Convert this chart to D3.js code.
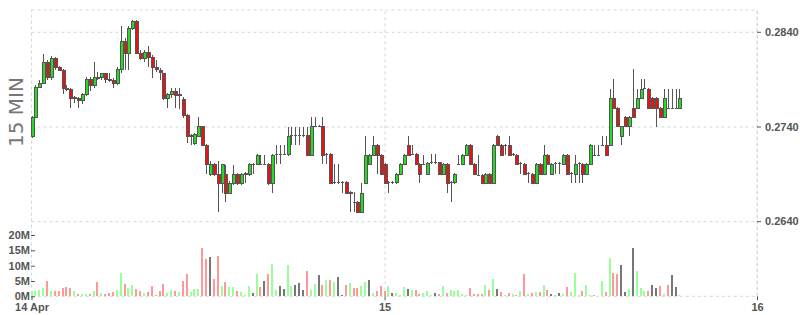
<!DOCTYPE html>
<html><head><meta charset="utf-8">
<script src="https://cdn.jsdelivr.net/npm/d3@7"></script>
<style>
body{margin:0;background:#fff;}
svg{display:block;font-family:"DejaVu Sans",Verdana,sans-serif;}
</style></head><body>
<svg id="c" width="800" height="315"></svg>
<script>
// ---- data (15-minute candles, 14 Apr 01:15 onward) ----
const open = [
.2730,.2750,.2782,.2786,.2808,.2792,.2812,.2803,.2800,.2781,
.2780,.2770,.2770,.2768,.2774,.2790,.2784,.2792,.2792,.2796,
.2790,.2789,.2786,.2801,.2830,.2818,.2844,.2851,.2818,.2812,
.2819,.2813,.2803,.2800,.2797,.2770,.2774,.2777,.2773,.2769,
.2752,.2730,.2723,.2730,.2740,.2720,.2690,.2700,.2690,.2680,
.2690,.2670,.2680,.2690,.2680,.2690,.2690,.2700,.2700,.2700,
.2700,.2700,.2680,.2711,.2711,.2711,.2711,.2731,.2731,.2731,
.2731,.2731,.2710,.2741,.2741,.2741,.2711,.2711,.2681,.2681,
.2681,.2681,.2670,.2660,.2660,.2650,.2680,.2700,.2710,.2720,
.2710,.2700,.2681,.2681,.2681,.2690,.2700,.2720,.2711,.2711,
.2700,.2700,.2690,.2702,.2702,.2702,.2690,.2700,.2681,.2681,
.2700,.2700,.2710,.2720,.2700,.2689,.2689,.2680,.2690,.2680,
.2730,.2720,.2720,.2720,.2711,.2710,.2701,.2700,.2691,.2690,
.2680,.2700,.2690,.2710,.2690,.2701,.2701,.2700,.2710,.2691,
.2690,.2701,.2700,.2690,.2700,.2710,.2710,.2720,.2720,.2720,
.2770,.2760,.2730,.2750,.2740,.2760,.2760,.2770,.2781,.2780,
.2770,.2770,.2760,.2750,.2760,.2760,.2760,.2760];
const high = [
.2751,.2784,.2789,.2817,.2810,.2814,.2813,.2804,.2801,.2784,
.2781,.2772,.2771,.2775,.2792,.2792,.2808,.2798,.2797,.2797,
.2797,.2791,.2803,.2846,.2833,.2846,.2852,.2852,.2821,.2821,
.2825,.2816,.2810,.2802,.2797,.2775,.2781,.2781,.2781,.2771,
.2753,.2732,.2733,.2750,.2741,.2721,.2704,.2701,.2704,.2700,
.2699,.2682,.2699,.2691,.2691,.2692,.2701,.2701,.2711,.2710,
.2710,.2701,.2711,.2720,.2720,.2720,.2740,.2740,.2740,.2740,
.2740,.2740,.2750,.2750,.2742,.2750,.2712,.2712,.2700,.2700,
.2682,.2682,.2672,.2671,.2661,.2680,.2730,.2711,.2730,.2721,
.2711,.2701,.2682,.2682,.2691,.2701,.2711,.2730,.2720,.2712,
.2701,.2710,.2702,.2711,.2711,.2703,.2701,.2701,.2682,.2691,
.2710,.2711,.2721,.2721,.2701,.2710,.2690,.2691,.2691,.2721,
.2731,.2721,.2721,.2730,.2712,.2711,.2702,.2701,.2692,.2691,
.2701,.2701,.2720,.2711,.2701,.2702,.2702,.2711,.2711,.2692,
.2710,.2702,.2701,.2701,.2721,.2720,.2720,.2730,.2730,.2780,
.2790,.2761,.2741,.2751,.2751,.2801,.2780,.2790,.2790,.2781,
.2771,.2771,.2761,.2780,.2780,.2780,.2780,.2780];
const low = [
.2728,.2749,.2781,.2785,.2789,.2789,.2800,.2799,.2774,.2777,
.2760,.2765,.2760,.2764,.2772,.2777,.2781,.2789,.2789,.2786,
.2787,.2781,.2784,.2797,.2800,.2800,.2842,.2817,.2810,.2808,
.2803,.2791,.2798,.2789,.2768,.2760,.2770,.2760,.2758,.2749,
.2723,.2720,.2720,.2729,.2719,.2690,.2688,.2688,.2650,.2670,
.2660,.2669,.2678,.2678,.2678,.2680,.2688,.2690,.2699,.2699,
.2699,.2678,.2670,.2700,.2700,.2710,.2709,.2720,.2720,.2720,
.2729,.2709,.2709,.2739,.2739,.2700,.2700,.2679,.2679,.2679,
.2670,.2669,.2650,.2650,.2649,.2649,.2679,.2699,.2709,.2690,
.2689,.2679,.2670,.2679,.2679,.2689,.2699,.2709,.2710,.2699,
.2680,.2699,.2689,.2700,.2700,.2689,.2689,.2670,.2660,.2679,
.2699,.2699,.2709,.2699,.2689,.2688,.2679,.2679,.2679,.2679,
.2719,.2709,.2710,.2709,.2709,.2699,.2690,.2689,.2680,.2679,
.2679,.2689,.2689,.2699,.2689,.2690,.2690,.2699,.2689,.2680,
.2680,.2680,.2680,.2689,.2699,.2709,.2709,.2719,.2709,.2719,
.2759,.2739,.2720,.2739,.2730,.2749,.2759,.2769,.2780,.2759,
.2759,.2740,.2749,.2749,.2759,.2759,.2759,.2759];
const close = [
.2750,.2782,.2786,.2808,.2792,.2812,.2803,.2800,.2781,.2780,
.2770,.2771,.2768,.2774,.2790,.2784,.2792,.2791,.2796,.2790,
.2789,.2786,.2801,.2830,.2818,.2844,.2851,.2818,.2812,.2819,
.2813,.2803,.2801,.2798,.2770,.2774,.2777,.2773,.2774,.2752,
.2730,.2731,.2732,.2740,.2720,.2700,.2700,.2690,.2680,.2700,
.2670,.2680,.2690,.2680,.2690,.2691,.2700,.2700,.2710,.2700,
.2700,.2680,.2710,.2711,.2711,.2711,.2730,.2731,.2731,.2731,
.2731,.2710,.2740,.2741,.2741,.2710,.2711,.2680,.2681,.2681,
.2681,.2670,.2671,.2660,.2650,.2670,.2710,.2710,.2720,.2710,
.2690,.2680,.2681,.2681,.2690,.2700,.2710,.2710,.2711,.2700,
.2690,.2700,.2701,.2702,.2702,.2690,.2700,.2680,.2681,.2690,
.2700,.2710,.2720,.2700,.2690,.2689,.2680,.2690,.2680,.2720,
.2720,.2710,.2720,.2710,.2711,.2700,.2701,.2690,.2691,.2680,
.2700,.2690,.2710,.2700,.2700,.2701,.2701,.2710,.2690,.2691,
.2700,.2701,.2690,.2700,.2720,.2710,.2710,.2720,.2710,.2770,
.2760,.2740,.2740,.2740,.2750,.2750,.2770,.2780,.2781,.2760,
.2760,.2760,.2750,.2770,.2760,.2760,.2760,.2770];
const volumeM = [
1.8,1.8,2.1,2.6,5.0,1.8,1.8,1.8,2.6,2.9,
2.6,1.8,0.75,0.75,0.75,0.75,1.8,4.8,1.0,0.75,
1.2,1.5,2.1,7.7,4.0,2.8,3.7,2.3,1.8,1.2,
1.5,3.4,0.4,1.8,4.0,1.2,2.1,1.8,1.5,5.1,
7.3,1.5,2.3,2.3,15.7,12.1,12.7,5.6,13.2,3.4,
4.7,2.9,3.1,1.7,1.4,0.4,3.4,1.2,7.3,2.9,
4.9,7.3,10.5,2.0,3.4,2.4,10.2,3.4,3.7,4.4,
2.0,8.3,2.0,3.9,7.0,3.7,5.3,5.3,4.7,6.3,
0.4,3.7,4.3,2.7,2.7,3.4,4.7,5.3,1.2,1.7,
3.4,1.7,3.4,1.0,1.2,0.4,3.0,2.4,2.0,2.0,
0.75,1.1,1.6,0.4,1.1,0.75,3.4,1.1,2.0,1.6,
2.0,0.75,0.4,2.7,0.75,0.75,0.75,3.7,2.0,5.6,
2.4,1.4,0.4,1.1,0.75,0.4,1.6,7.3,0.75,1.1,
1.4,1.4,3.7,2.0,0.75,0.4,1.1,0.75,3.0,1.4,
7.6,0.4,1.6,3.7,0.4,0.4,0.2,5.0,1.4,12.5,
7.6,7.3,10.2,1.4,2.4,15.8,8.3,2.7,1.6,1.6,
3.7,2.7,3.4,0.75,3.7,7.0,3.0,0.4];
const priceTicks = [0.2640, 0.2740, 0.2840];
const volTicks = [0, 5, 10, 15, 20];
const dayTickLabels = ["14 Apr", "15", "16"];
const intervalLabel = "15 MIN";

// ---- build ----
const t0 = new Date(Date.UTC(2021, 3, 14, 1, 15));
const tEnd = new Date(Date.UTC(2021, 3, 16, 0, 0));
const times = open.map((_, i) => d3.utcMinute.offset(t0, 15 * i));
const data = times.map((t, i) => ({t, o: open[i], h: high[i], l: low[i], c: close[i], v: volumeM[i],
  dir: Math.sign(close[i] - (i ? close[i - 1] : open[i]))}));
const dayTicks = [t0, new Date(Date.UTC(2021, 3, 15)), tEnd];

const L = 31.5, R = 757, T = 10, B = 296.3;
const x = d3.scaleUtc().domain([t0, tEnd]).range([L, R]);
const y = d3.scaleLinear().domain([0.264, 0.284]).range([221.2, 31.8]);
const vy = d3.scaleLinear().domain([0, 20]).range([B, 235]);

const svg = d3.select("#c");
const gridCol = "#d6d6d6";

// frame
svg.append("rect").attr("x", L).attr("y", T).attr("width", R - L).attr("height", B - T)
  .attr("fill", "none").attr("stroke", gridCol).attr("stroke-dasharray", "3,3");

// horizontal price grid
const hg = svg.append("g").attr("transform", `translate(${L},0)`)
  .call(d3.axisLeft(y).tickValues(priceTicks).tickSize(-(R - L)).tickFormat(""));
hg.select(".domain").remove();
hg.selectAll("line").attr("stroke", gridCol).attr("stroke-dasharray", "3,3");

// vertical day grid
const vg = svg.append("g").attr("transform", `translate(0,${B})`)
  .call(d3.axisBottom(x).tickValues(dayTicks.slice(1)).tickSize(-(B - T)).tickFormat(""));
vg.select(".domain").remove();
vg.selectAll("line").attr("stroke", gridCol).attr("stroke-dasharray", "3,3");

// volume bars
const volCol = d => d.dir > 0 ? "#99ff99" : d.dir < 0 ? "#ff9999" : "#777777";
svg.append("g").selectAll("rect").data(data).join("rect")
  .attr("x", d => Math.round(x(d.t)) - 1).attr("width", 2)
  .attr("y", d => vy(d.v)).attr("height", d => B - vy(d.v))
  .attr("fill", volCol).attr("shape-rendering", "crispEdges");

// candles
const cg = svg.append("g").attr("shape-rendering", "crispEdges");
cg.selectAll("line").data(data).join("line")
  .attr("x1", d => Math.round(x(d.t)) + 0.5).attr("x2", d => Math.round(x(d.t)) + 0.5)
  .attr("y1", d => y(d.h)).attr("y2", d => y(d.l))
  .attr("stroke", "#555").attr("stroke-width", 1);
cg.selectAll("path").data(data).join("path")
  .attr("d", d => {
    const cx = Math.round(x(d.t)) + 0.5;
    const top = Math.round(y(Math.max(d.o, d.c))) + 0.5;
    const bot = Math.round(y(Math.min(d.o, d.c))) + 0.5;
    return `M${cx - 1.5},${top}h3V${bot}h-3Z`;
  })
  .attr("fill", d => d.c > d.o ? "#22dd22" : d.c < d.o ? "#ee1111" : "none")
  .attr("stroke", "#555").attr("stroke-width", 1);

// axes
const axStyle = g => {
  g.select(".domain").remove();
  g.selectAll("text").attr("fill", "#555").attr("font-size", 11).attr("font-weight", "bold");
  g.selectAll("line").attr("stroke", "#555");
};
svg.append("g").attr("transform", `translate(${R},0)`)
  .call(d3.axisRight(y).tickValues(priceTicks).tickSize(4).tickPadding(4).tickFormat(d3.format(".4f")))
  .call(axStyle);
svg.append("g").attr("transform", `translate(${L - 0.5},0)`)
  .call(d3.axisLeft(vy).tickValues(volTicks).tickSizeInner(-4).tickSizeOuter(0).tickPadding(1).tickFormat(d => d + "M"))
  .call(axStyle);
svg.append("g").attr("transform", `translate(0,${B})`)
  .call(d3.axisBottom(x).tickValues(dayTicks).tickSize(4).tickPadding(3).tickFormat((d, i) => dayTickLabels[i]))
  .call(axStyle);

// interval label
svg.append("text").attr("transform", "translate(16,112) rotate(-90)")
  .attr("text-anchor", "middle").attr("dominant-baseline", "central")
  .attr("font-size", 20).attr("fill", "#777").text(intervalLabel);
</script>
</body></html>
